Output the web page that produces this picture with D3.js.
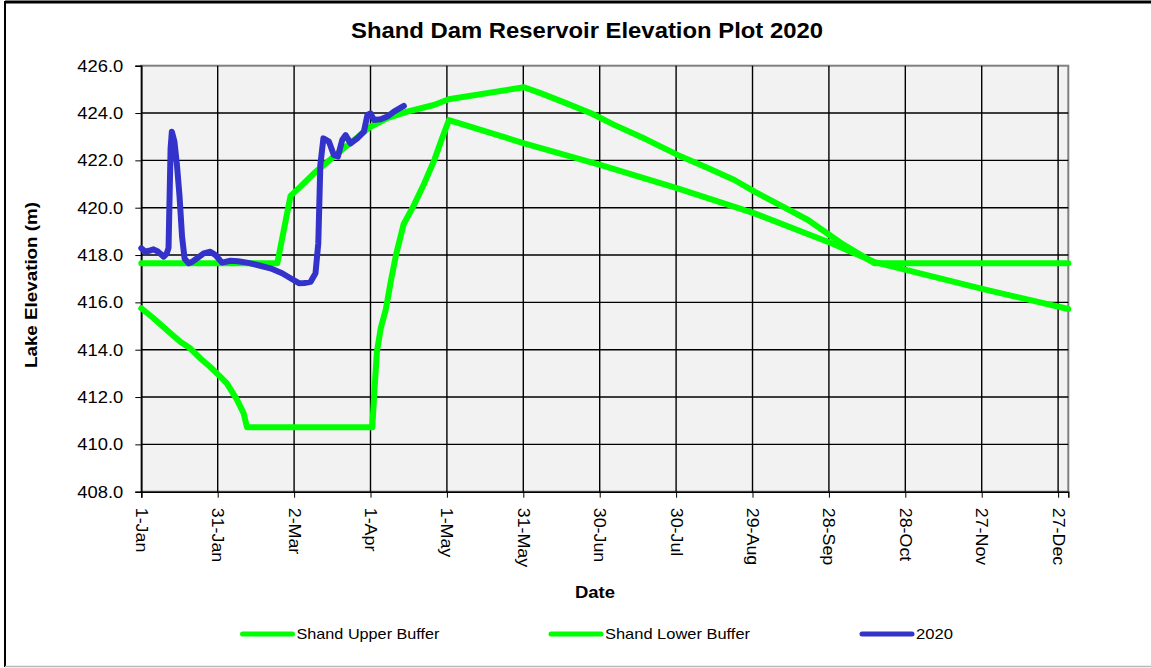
<!DOCTYPE html>
<html>
<head>
<meta charset="utf-8">
<script src="https://cdn.jsdelivr.net/npm/d3@7"></script>
<style>
  body { margin: 0; background: #fff; }
  text { font-family: "Liberation Sans", Arial, sans-serif; fill: #000; }
</style>
</head>
<body>
<svg id="chart" width="1151" height="668"></svg>
<script>
// days counted from 1-Jan (axis uses a non-leap calendar like the source sheet)
const upperDays = [0, 53.4, 58.6, 62.5, 67.8, 75.6, 83.5, 90, 96.5, 104.4, 114.9, 120.7, 150.3, 157, 166, 176.6, 185.7, 198, 210.6, 222, 232.9, 240.8, 251, 261.8, 274.9, 288, 364]
const upperElev = [417.65, 417.65, 420.5, 420.89, 421.45, 422.16, 422.86, 423.42, 423.78, 424.06, 424.34, 424.58, 425.09, 424.83, 424.45, 423.99, 423.5, 422.9, 422.23, 421.7, 421.17, 420.68, 420.1, 419.48, 418.5, 417.65, 417.65]

const lowerDays = [0, 4.8, 10, 15.3, 19.2, 23.1, 27, 31, 33.6, 37.6, 40.2, 41.5, 90.7, 91.5, 92.5, 94, 96, 98, 100, 103, 107, 111, 115, 118, 120.8, 150.3, 180.5, 210.6, 240.8, 271, 288, 331, 364]
const lowerElev = [415.75, 415.33, 414.83, 414.34, 414.06, 413.64, 413.28, 412.86, 412.58, 411.88, 411.31, 410.72, 410.72, 412.2, 413.9, 414.9, 415.7, 416.9, 418.0, 419.3, 420.1, 421.0, 422.0, 422.9, 423.7, 422.72, 421.8, 420.82, 419.76, 418.5, 417.7, 416.55, 415.72]

const obsDays = [0, 1.6, 3, 4.8, 6.5, 8.8, 10, 10.7, 11.5, 12, 13, 14, 15, 16, 17, 18.6, 20, 21.9, 24.5, 27.1, 29.1, 31.7, 35, 38, 41.5, 45.5, 50.7, 55.3, 58.6, 61.9, 64, 66.5, 68.4, 69.5, 70.3, 71.5, 73.7, 75.6, 77.2, 78.9, 80.2, 82.2, 84.8, 87.4, 88.8, 90, 91.3, 94, 96.6, 99.2, 103.1]
const obsElev = [418.29, 418.14, 418.18, 418.24, 418.15, 417.93, 418.07, 418.3, 422.5, 423.21, 422.8, 421.8, 420.5, 418.78, 417.85, 417.65, 417.72, 417.86, 418.07, 418.14, 418.0, 417.68, 417.76, 417.74, 417.68, 417.58, 417.44, 417.23, 417.02, 416.81, 416.82, 416.87, 417.23, 418.5, 421.8, 422.93, 422.79, 422.23, 422.16, 422.86, 423.07, 422.72, 422.93, 423.21, 423.92, 423.99, 423.71, 423.74, 423.85, 424.06, 424.30]

const tickDays = [0, 30, 60, 90, 120, 150, 180, 210, 240, 270, 300, 330, 360]
const yTicks = [408, 410, 412, 414, 416, 418, 420, 422, 424, 426]

const seriesNames = ["Shand Upper Buffer", "Shand Lower Buffer", "2020"]
const seriesColors = ["#00ff00", "#00ff00", "#3333cc"]

const base = new Date(Date.UTC(2019, 0, 1))
const toDate = d => new Date(base.getTime() + d * 864e5)

const svg = d3.select("#chart")
const pLeft = 141.3, pRight = 1068.3, pTop = 65.7, pBottom = 491.7

const x = d3.scaleUtc()
    .domain([base, toDate(364)])
    .range([pLeft, pRight])
const y = d3.scaleLinear().domain([408, 426]).range([pBottom, pTop])

function stretch(sel, k) {
    sel.each(function() {
        let w = this.getComputedTextLength()
        d3.select(this).attr("textLength", w * k).attr("lengthAdjust", "spacingAndGlyphs")
    })
}

// outer frame
svg.append("line").attr("x1", 5).attr("x2", 1151).attr("y1", 2).attr("y2", 2).attr("stroke", "#000").attr("stroke-width", 3)
svg.append("line").attr("x1", 5).attr("x2", 5).attr("y1", 1).attr("y2", 667).attr("stroke", "#000").attr("stroke-width", 2)
svg.append("line").attr("x1", 5).attr("x2", 1151).attr("y1", 666.5).attr("y2", 666.5).attr("stroke", "#b8b8b8").attr("stroke-width", 1.5)

// plot area
svg.append("rect")
    .attr("x", pLeft).attr("y", pTop)
    .attr("width", pRight - pLeft).attr("height", pBottom - pTop)
    .attr("fill", "#f2f2f2")
    .attr("stroke", "#808080").attr("stroke-width", 2)

svg.append("g").selectAll("line").data(yTicks.slice(1, -1))
    .join("line")
    .attr("x1", pLeft).attr("x2", pRight)
    .attr("y1", d => y(d)).attr("y2", d => y(d))
    .attr("stroke", "#000").attr("stroke-width", 1.4)

svg.append("g").selectAll("line").data(tickDays.slice(1))
    .join("line")
    .attr("x1", d => x(toDate(d))).attr("x2", d => x(toDate(d)))
    .attr("y1", pTop).attr("y2", pBottom)
    .attr("stroke", "#000").attr("stroke-width", 1.4)

// axes
let yAxis = svg.append("g")
    .attr("transform", `translate(${pLeft},0)`)
    .call(d3.axisLeft(y).tickValues(yTicks).tickFormat(d3.format(".1f")).tickSize(6).tickPadding(12))
yAxis.select(".domain").attr("stroke", "#000").attr("stroke-width", 1.5)
yAxis.selectAll(".tick line").attr("stroke", "#000")
yAxis.selectAll("text").style("font-size", "17px").style("font-family", "Liberation Sans, Arial")
stretch(yAxis.selectAll("text"), 1.08)

let fmt = d3.utcFormat("%-d-%b")
let xAxis = svg.append("g")
    .attr("transform", `translate(0,${pBottom})`)
    .call(d3.axisBottom(x).tickValues(tickDays.map(toDate)).tickFormat(fmt).tickSize(6))
xAxis.select(".domain").attr("stroke", "#000").attr("stroke-width", 1.5)
xAxis.selectAll(".tick line").attr("stroke", "#000")
xAxis.selectAll("text")
    .style("font-size", "17px").style("font-family", "Liberation Sans, Arial")
    .attr("text-anchor", "start")
    .attr("transform", "rotate(90)")
    .attr("x", 16).attr("y", 0).attr("dy", "0.35em")
stretch(xAxis.selectAll("text"), 1.05)

// series
const line = d3.line().x(d => x(toDate(d[0]))).y(d => y(d[1]))
const series = [
    d3.zip(upperDays, upperElev),
    d3.zip(lowerDays, lowerElev),
    d3.zip(obsDays, obsElev)
]
svg.append("g").selectAll("path").data(series)
    .join("path")
    .attr("d", line)
    .attr("fill", "none")
    .attr("stroke", (d, i) => seriesColors[i])
    .attr("stroke-width", 6)
    .attr("stroke-linejoin", "round")
    .attr("stroke-linecap", "round")

// titles
svg.append("text")
    .attr("x", 587).attr("y", 38)
    .attr("text-anchor", "middle")
    .style("font-size", "22px").style("font-weight", "bold")
    .attr("textLength", 472).attr("lengthAdjust", "spacingAndGlyphs")
    .text("Shand Dam Reservoir Elevation Plot 2020")

svg.append("text")
    .attr("transform", "translate(37,285) rotate(-90)")
    .attr("text-anchor", "middle")
    .style("font-size", "17px").style("font-weight", "bold")
    .attr("textLength", 166).attr("lengthAdjust", "spacingAndGlyphs")
    .text("Lake Elevation (m)")

svg.append("text")
    .attr("x", 595).attr("y", 598)
    .attr("text-anchor", "middle")
    .style("font-size", "16px").style("font-weight", "bold")
    .attr("textLength", 40).attr("lengthAdjust", "spacingAndGlyphs")
    .text("Date")

// legend
const legX = [242.5, 551, 862]
const legW = [143, 145, 37]
const leg = svg.append("g").selectAll("g").data(seriesNames)
    .join("g")
    .attr("transform", (d, i) => `translate(${legX[i]},634)`)
leg.append("line")
    .attr("x1", 0).attr("x2", 50)
    .attr("stroke", (d, i) => seriesColors[i])
    .attr("stroke-width", 5).attr("stroke-linecap", "round")
leg.append("text")
    .attr("x", 54).attr("dy", "0.35em")
    .style("font-size", "15px")
    .attr("textLength", (d, i) => legW[i]).attr("lengthAdjust", "spacingAndGlyphs")
    .text(d => d)
</script>
</body>
</html>
